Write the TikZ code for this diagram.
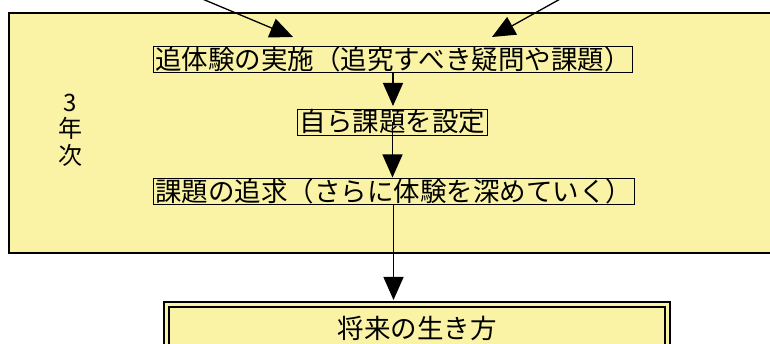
\documentclass[tikz,border=0pt]{standalone}
\usepackage{fontspec}
\setmainfont{Noto Sans CJK JP}
\usetikzlibrary{arrows.meta}
\definecolor{pale}{RGB}{250,243,165}
\begin{document}
\begin{tikzpicture}[x=1pt,y=-1pt,
  stepbox/.style={draw=black, line width=1pt, fill=pale, inner xsep=2pt, inner ysep=0pt,
    text height=22.5pt, text depth=3.5pt, font=\fontsize{26.5}{30}\selectfont},
  arr/.style={-{Triangle[length=23pt,width=20pt]}, line width=1.3pt}]
\clip (0,0) rectangle (770,344);
\fill[white] (0,0) rectangle (770,344);
% big year-3 panel
\node[draw=black, line width=2pt, fill=pale, minimum width=790pt, minimum height=240pt,
  anchor=north west, inner sep=0pt] (panel) at (8,12) {};
\node[font=\fontsize{24}{26.5}\selectfont, align=center, inner sep=0pt] (yr) at (70,130) {3\\年\\次};
% step boxes
\node[stepbox] (n1) at (393,60) {追体験の実施（追究すべき疑問や課題）};
\node[stepbox] (n2) at (392.5,122.5) {自ら課題を設定};
\node[stepbox] (n3) at (393.5,192) {課題の追求（さらに体験を深めていく）};
\node[draw=black, line width=2pt, double=pale, double distance=3pt, fill=pale,
  minimum width=501pt, minimum height=47pt, anchor=north, inner sep=0pt,
  font=\fontsize{26.5}{30}\selectfont] (fut) at (417,303.5) {将来の生き方};
% incoming arrows from above
\coordinate (s1) at (200,-2);
\coordinate (t1) at (293,37);
\coordinate (s2) at (562,-2);
\coordinate (t2) at (492,37);
\draw[arr] (s1) -- (t1);
\draw[arr] (s2) -- (t2);
% flow
\draw[arr, shorten >=3pt] (n1.south) -- (n1.south |- n2.north);
\draw[arr, shorten >=1pt] (n2.center) -- (n2.center |- n3.north);
\draw[arr, shorten >=3.5pt] (n3.south) -- (n3.south |- fut.north);
\end{tikzpicture}
\end{document}
